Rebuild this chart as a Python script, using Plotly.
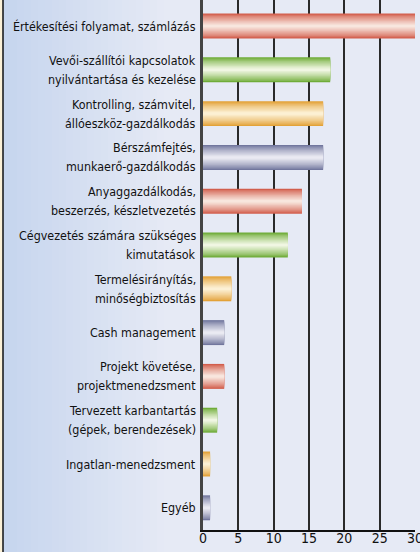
import plotly.graph_objects as go

categories = [
    "Értékesítési folyamat, számlázás",
    "Vevői-szállítói kapcsolatok<br>nyilvántartása és kezelése",
    "Kontrolling, számvitel,<br>állóeszköz-gazdálkodás",
    "Bérszámfejtés,<br>munkaerő-gazdálkodás",
    "Anyaggazdálkodás,<br>beszerzés, készletvezetés",
    "Cégvezetés számára szükséges<br>kimutatások",
    "Termelésirányítás,<br>minőségbiztosítás",
    "Cash management",
    "Projekt követése,<br>projektmenedzsment",
    "Tervezett karbantartás<br>(gépek, berendezések)",
    "Ingatlan-menedzsment",
    "Egyéb",
]
values = [30, 18, 17, 17, 14, 12, 4, 3, 3, 2, 1, 1]
x_ticks = [0, 5, 10, 15, 20, 25, 30]

palette = [
    ((0xD2, 0x5E, 0x4C), (0xF8, 0xE6, 0xDE)),  # red
    ((0x6F, 0xAC, 0x38), (0xF0, 0xF6, 0xE2)),  # green
    ((0xE3, 0xA2, 0x38), (0xFC, 0xF0, 0xD4)),  # orange
    ((0x72, 0x77, 0x9E), (0xEA, 0xEA, 0xF2)),  # blue
]

def mix(a, b, t):
    return "rgb(%d,%d,%d)" % tuple(round(a[i] + (b[i] - a[i]) * t) for i in range(3))

fig = go.Figure()
n_layers = 10
full_w = 0.57
for k in range(n_layers):
    t = k / (n_layers - 1)
    w = full_w * (1 - 0.9 * t)
    colors = [mix(palette[i % 4][0], palette[i % 4][1], t ** 0.8) for i in range(len(categories))]
    fig.add_trace(go.Bar(
        x=values, y=categories, orientation="h",
        width=[w] * len(categories),
        marker=dict(color=colors, line=dict(width=0)),
        hoverinfo="skip" if k else "x+y",
        showlegend=False,
    ))

font_family = "DejaVu Sans Condensed, Liberation Sans, sans-serif"
label_size = 12.4
line_gap = 19

annotations = []
for cat in categories:
    lines = cat.split("<br>")
    n = len(lines)
    for j, line in enumerate(lines):
        shift = ((n - 1) / 2 - j) * line_gap
        annotations.append(dict(
            x=0, xref="paper", y=cat, yref="y", text=line, showarrow=False,
            xanchor="right", yanchor="middle", xshift=-5, yshift=shift,
            font=dict(family=font_family, size=label_size, color="#111"),
        ))

# background decoration: soft blue gradient on the left side of the paper
PL, PW, PH, PB = 203, 212, 530, 22
def px(xpix):
    return (xpix - PL) / PW

shapes = []
n_strips = 24
left_c, mid_c = (0xC6, 0xD5, 0xEE), (0xE6, 0xEA, 0xF5)
for s in range(n_strips):
    x0 = 3 + s * 7
    shapes.append(dict(type="rect", xref="paper", yref="paper",
                       x0=px(x0), x1=px(x0 + 7.5), y0=-PB / PH, y1=1,
                       fillcolor=mix(left_c, mid_c, s / (n_strips - 1)),
                       line=dict(width=0), layer="below"))
shapes += [
    dict(type="rect", xref="paper", yref="paper", x0=px(0), x1=px(2.5), y0=-PB / PH, y1=1,
         fillcolor="#fbf0d6", line=dict(width=0), layer="above"),
    dict(type="line", xref="paper", yref="paper", x0=px(3), x1=px(3), y0=-PB / PH, y1=1,
         line=dict(color="#111", width=1.5), layer="above"),
]

fig.update_layout(
    width=420, height=552,
    margin=dict(l=PL, r=5, t=0, b=PB),
    barmode="overlay",
    paper_bgcolor="#e6eaf5",
    plot_bgcolor="rgba(0,0,0,0)",
    font=dict(family=font_family, size=14, color="#111"),
    xaxis=dict(
        range=[0, 30], tickvals=x_ticks, showgrid=True, gridcolor="#2a2a2a", gridwidth=1.8,
        zeroline=False, showline=True, linecolor="#111", linewidth=1.5,
        ticks="", tickfont=dict(size=14), fixedrange=True, automargin=False,
        ticklabelstandoff=-6, ticklabeloverflow="allow",
    ),
    yaxis=dict(
        categoryorder="array", categoryarray=categories,
        range=[11.507, -0.594], showgrid=False, zeroline=False,
        showline=True, linecolor="#444", linewidth=2.5,
        showticklabels=False, ticks="", fixedrange=True, automargin=False,
    ),
    annotations=annotations,
    shapes=shapes,
)

fig.write_html("out.html", config={"displayModeBar": False},
               post_script="document.body.style.margin='0';document.body.style.overflow='hidden';")
